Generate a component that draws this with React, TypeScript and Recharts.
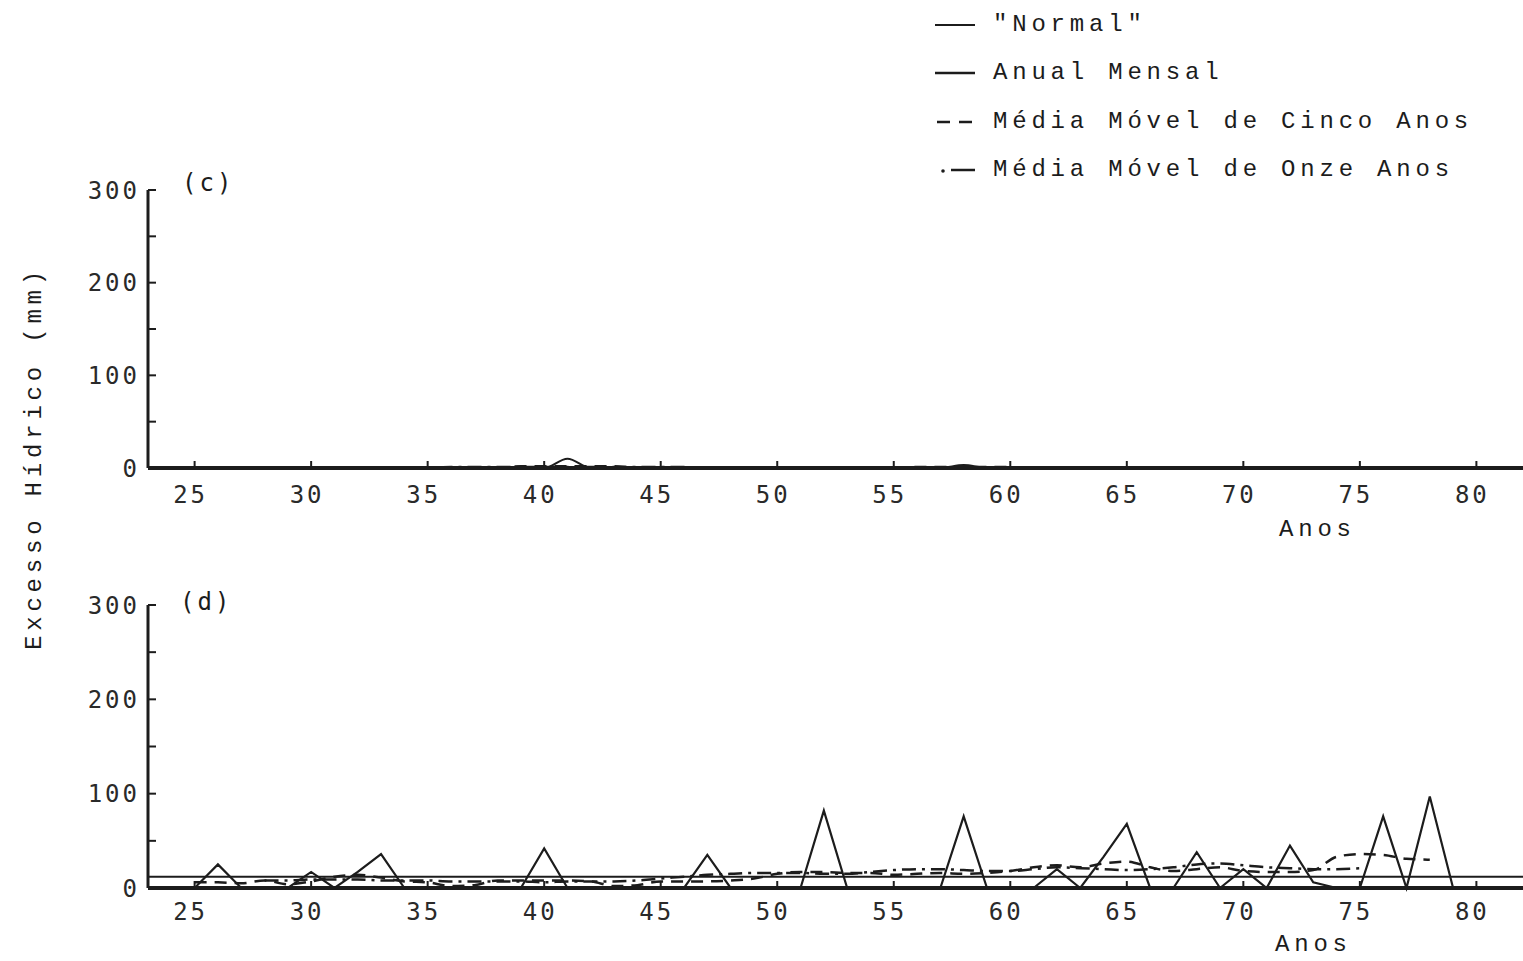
import { LineChart, Line, XAxis, YAxis } from 'recharts'

// anos (19xx) do eixo horizontal; 81-82 só levam a linha "normal" até a borda
const years = [
  23, 24, 25, 26, 27, 28, 29, 30, 31, 32,
  33, 34, 35, 36, 37, 38, 39, 40, 41, 42,
  43, 44, 45, 46, 47, 48, 49, 50, 51, 52,
  53, 54, 55, 56, 57, 58, 59, 60, 61, 62,
  63, 64, 65, 66, 67, 68, 69, 70, 71, 72,
  73, 74, 75, 76, 77, 78, 79, 80, 81, 82,
]

// painel (c)
const annualC = [
  0, 0, 0, 0, 0, 0, 0, 0, 0, 0,
  0, 0, 0, 0, 0, 0, 0, 0, 10, 0,
  0, 0, 0, 0, 0, 0, 0, 0, 0, 0,
  0, 0, 0, 0, 0, 3, 0, 0, 0, 0,
  0, 0, 0, 0, 0, 0, 0, 0, 0, 0,
  0, 0, 0, 0, 0, 0, 0, 0, null, null,
]
const normalC = 0
const ma5C = [
  null, null, 0, 0, 0, 0, 0, 0, 0, 0,
  0, 0, 0, 0, 0, 0, 2, 2, 2, 2,
  2, 0, 0, 0, 0, 0, 0, 0, 0, 0,
  0, 0, 0, 1, 1, 1, 1, 1, 0, 0,
  0, 0, 0, 0, 0, 0, 0, 0, 0, 0,
  0, 0, 0, 0, 0, 0, null, null, null, null,
]
const ma11C = [
  null, null, null, null, null, 0, 0, 0, 0, 0,
  0, 0, 0, 1, 1, 1, 1, 1, 1, 1,
  1, 1, 1, 1, 0, 0, 0, 0, 0, 0,
  0, 0, 0, 0, 0, 0, 0, 0, 0, 0,
  0, 0, 0, 0, 0, 0, 0, 0, 0, 0,
  0, 0, 0, null, null, null, null, null, null, null,
]

// painel (d)
const annualD = [
  0, 0, 0, 25, 0, 0, 0, 17, 0, 17,
  36, 0, 0, 0, 0, 0, 0, 42, 0, 0,
  0, 0, 0, 0, 35, 0, 0, 0, 0, 82,
  0, 0, 0, 0, 0, 76, 0, 0, 0, 20,
  0, 33, 68, 0, 0, 38, 0, 20, 0, 45,
  6, 0, 0, 76, 0, 97, 0, 0, null, null,
]
const normalD = 12
const ma5D = [
  null, null, 6, 6, 5, 8, 4, 7, 12, 14,
  11, 7, 6, 2, 3, 8, 8, 8, 8, 7,
  2, 3, 7, 7, 7, 8, 10, 15, 17, 17,
  16, 16, 14, 15, 16, 15, 16, 18, 22, 24,
  22, 26, 28, 22, 18, 20, 22, 18, 17, 17,
  19, 33, 36, 35, 31, 30, null, null, null, null,
]
const ma11D = [
  null, null, null, null, null, 8, 8, 9, 9, 9,
  8, 8, 8, 7, 7, 7, 7, 6, 7, 7,
  7, 8, 10, 12, 14, 15, 16, 16, 16, 15,
  15, 17, 19, 20, 20, 19, 18, 18, 20, 22,
  21, 20, 19, 20, 22, 25, 26, 24, 22, 21,
  20, 20, 21, null, null, null, null, null, null, null,
]

const xTicks = [25, 30, 35, 40, 45, 50, 55, 60, 65, 70, 75, 80]
const yTicks = [0, 50, 100, 150, 200, 250, 300]
const legendLabels = ['"Normal"', 'Anual Mensal', 'Média Móvel de Cinco Anos', 'Média Móvel de Onze Anos']

const ink = '#1c1c1c'
const typeFont = '"Liberation Mono", "DejaVu Sans Mono", monospace'
const numFont = '"DejaVu Sans Mono", monospace'
const tickStyle = { fontFamily: numFont, fontSize: 24, fill: '#2a2a2a', letterSpacing: 3 }

const buildRows = (annual: (number | null)[], normal: number, ma5: (number | null)[], ma11: (number | null)[]) =>
  years.map((year, i) => ({ year, annual: annual[i], normal, ma5: ma5[i], ma11: ma11[i] }))

interface PanelProps {
  rows: ReturnType<typeof buildRows>
  top: number
  height: number
  marginTop: number
  xAxisHeight: number
  labelGap: number
  smooth?: boolean
}

function Panel({ rows, top, height, marginTop, xAxisHeight, labelGap, smooth }: PanelProps) {
  return (
    <div style={{ position: 'absolute', left: 0, top }}>
      <LineChart width={1523} height={height} data={rows} margin={{ top: marginTop, right: 0, left: 0, bottom: 0 }}>
        <XAxis
          dataKey="year"
          type="number"
          domain={[23, 82]}
          ticks={xTicks}
          height={xAxisHeight}
          tickSize={-7}
          tickMargin={labelGap}
          axisLine={{ stroke: ink, strokeWidth: 4 }}
          tickLine={{ stroke: ink, strokeWidth: 2 }}
          tick={{ ...tickStyle, dx: -4 }}
        />
        <YAxis
          type="number"
          domain={[0, 300]}
          ticks={yTicks}
          width={148}
          tickSize={-8}
          tickMargin={16}
          axisLine={{ stroke: ink, strokeWidth: 3 }}
          tickLine={{ stroke: ink, strokeWidth: 2 }}
          tick={tickStyle}
          tickFormatter={(v: number) => (v % 100 === 0 ? String(v) : '')}
        />
        <Line dataKey="normal" stroke={ink} strokeWidth={2} dot={false} isAnimationActive={false} />
        <Line dataKey="ma11" type="monotone" stroke={ink} strokeWidth={2.5} strokeDasharray="14 6 3 6" dot={false} isAnimationActive={false} />
        <Line dataKey="ma5" type="monotone" stroke={ink} strokeWidth={2.5} strokeDasharray="12 8" dot={false} isAnimationActive={false} />
        <Line dataKey="annual" type={smooth ? 'monotone' : 'linear'} stroke={ink} strokeWidth={2.2} dot={false} isAnimationActive={false} />
      </LineChart>
    </div>
  )
}

const text = (left: number, top: number, value: string, font = typeFont, size = 24, spacing = 4.8) => (
  <div
    style={{
      position: 'absolute', left, top, fontFamily: font, fontSize: size, lineHeight: '24px',
      letterSpacing: spacing, color: ink, whiteSpace: 'nowrap',
    }}
  >
    {value}
  </div>
)

function LegendSample({ kind }: { kind: number }) {
  return (
    <svg width={44} height={10} style={{ position: 'absolute', left: 933, top: -5 }}>
      {kind === 0 && <line x1={2} y1={5} x2={42} y2={5} stroke={ink} strokeWidth={2} />}
      {kind === 1 && <line x1={2} y1={5} x2={42} y2={5} stroke={ink} strokeWidth={2.5} />}
      {kind === 2 && <line x1={4} y1={5} x2={40} y2={5} stroke={ink} strokeWidth={2.5} strokeDasharray="13 9" />}
      {kind === 3 && (
        <>
          <circle cx={10} cy={6} r={1.8} fill={ink} />
          <line x1={18} y1={5} x2={42} y2={5} stroke={ink} strokeWidth={2.5} />
        </>
      )}
    </svg>
  )
}

export default function App() {
  const rowsC = buildRows(annualC, normalC, ma5C, ma11C)
  const rowsD = buildRows(annualD, normalD, ma5D, ma11D)
  const legendY = [25, 73, 122, 170]

  return (
    <div style={{ position: 'absolute', left: 0, top: 0, width: 1523, height: 961, background: '#fff', overflow: 'hidden' }}>
      <Panel rows={rowsC} top={0} height={560} marginTop={190} xAxisHeight={92} labelGap={25} smooth />
      <Panel rows={rowsD} top={560} height={401} marginTop={45} xAxisHeight={73} labelGap={22} />

      {legendLabels.map((label, i) => (
        <div key={label} style={{ position: 'absolute', left: 0, top: legendY[i] }}>
          <LegendSample kind={i} />
          {text(993, -12, label)}
        </div>
      ))}

      {text(182, 171, '(c)', numFont, 24, 3)}
      {text(180, 590, '(d)', numFont, 24, 3)}
      {text(1279, 518, 'Anos')}
      {text(1275, 933, 'Anos')}

      <div
        style={{
          position: 'absolute', left: 35, top: 458, transform: 'translate(-50%, -50%) rotate(-90deg)',
          fontFamily: typeFont, fontSize: 24, lineHeight: '24px', letterSpacing: 4.8, color: ink, whiteSpace: 'nowrap',
        }}
      >
        Excesso Hídrico (mm)
      </div>
    </div>
  )
}
